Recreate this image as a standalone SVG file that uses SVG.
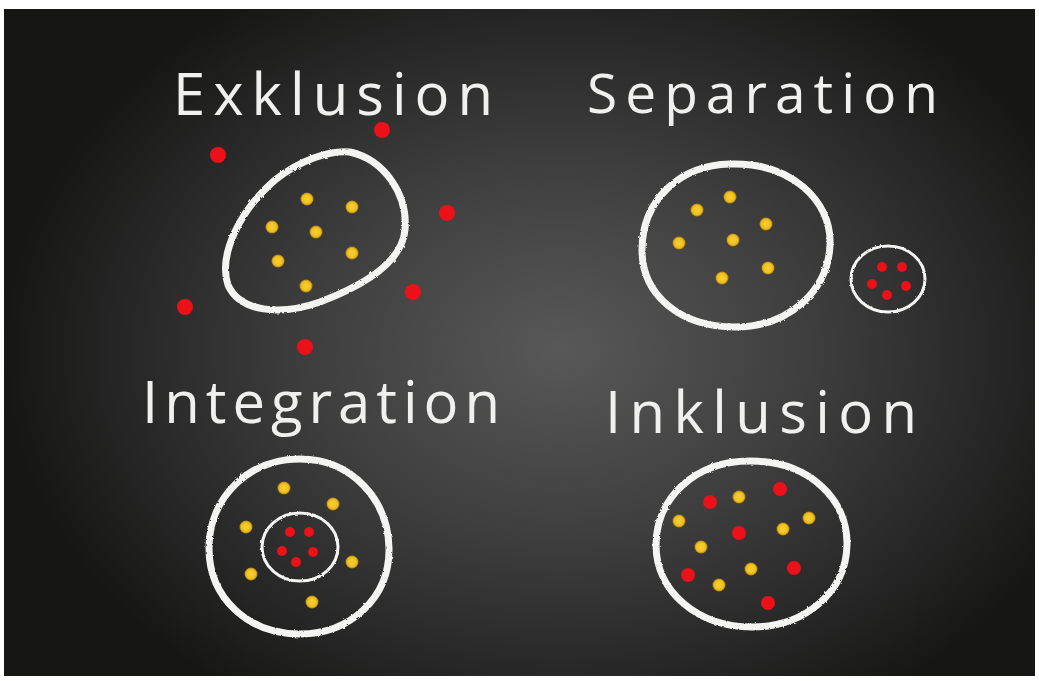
<svg xmlns="http://www.w3.org/2000/svg" width="1039" height="681" viewBox="0 0 1039 681">
<defs>
<radialGradient id="board" cx="560" cy="350" r="560" gradientUnits="userSpaceOnUse" gradientTransform="translate(560 350) scale(1 0.75) translate(-560 -350)">
<stop offset="0" stop-color="#585858"/>
<stop offset="0.45" stop-color="#3e3e3e"/>
<stop offset="0.8" stop-color="#252525"/>
<stop offset="1" stop-color="#161614"/>
</radialGradient>
<filter id="chalk" x="-10%" y="-10%" width="120%" height="120%">
<feTurbulence type="fractalNoise" baseFrequency="0.35" numOctaves="2" seed="3"/>
<feDisplacementMap in="SourceGraphic" scale="2.5"/>
</filter>
<radialGradient id="yel" cx="0.5" cy="0.5" r="0.5">
<stop offset="0" stop-color="#f5d230"/>
<stop offset="0.7" stop-color="#f0c020"/>
<stop offset="1" stop-color="#b08010"/>
</radialGradient>
</defs>
<style>
.ring{fill:none;stroke:#f4f4f2;stroke-width:7;stroke-linejoin:round}
.ring2{fill:none;stroke:#f4f4f2;stroke-width:3}
.red{fill:#ec1018}
.yel{fill:url(#yel)}
.lbl{font-family:"Open Sans","DejaVu Sans","Liberation Sans",sans-serif;fill:#f0f0ee;font-weight:400}
</style>
<rect width="1039" height="681" fill="#ffffff"/>
<rect x="4" y="9" width="1031" height="667" fill="url(#board)"/>

<g id="exklusion">
<text class="lbl" x="173" y="115" font-size="58" textLength="320" lengthAdjust="spacing">Exklusion</text>
<path class="ring" filter="url(#chalk)" d="M350,152 C385,160 408,195 405,230 C402,262 365,285 320,302 C280,316 240,312 228,285 C218,255 240,210 275,180 C300,160 330,150 350,152 Z"/>
<circle class="red" cx="218" cy="155" r="8"/>
<circle class="red" cx="382" cy="130" r="8"/>
<circle class="red" cx="447" cy="213" r="8"/>
<circle class="red" cx="185" cy="307" r="8"/>
<circle class="red" cx="413" cy="292" r="8"/>
<circle class="red" cx="305" cy="347" r="8"/>
<circle class="yel" cx="307" cy="199" r="6.5"/>
<circle class="yel" cx="352" cy="207" r="6.5"/>
<circle class="yel" cx="272" cy="227" r="6.5"/>
<circle class="yel" cx="316" cy="232" r="6.5"/>
<circle class="yel" cx="278" cy="261" r="6.5"/>
<circle class="yel" cx="352" cy="253" r="6.5"/>
<circle class="yel" cx="306" cy="286" r="6.5"/>
</g>

<g id="separation">
<text class="lbl" x="587" y="113" font-size="55" textLength="351" lengthAdjust="spacing">Separation</text>
<path class="ring" filter="url(#chalk)" d="M730,164 C790,162 832,200 830,245 C828,290 790,327 735,327 C680,327 642,295 642,250 C642,200 680,165 730,164 Z"/>
<circle class="yel" cx="730" cy="197" r="6.5"/>
<circle class="yel" cx="697" cy="210" r="6.5"/>
<circle class="yel" cx="766" cy="224" r="6.5"/>
<circle class="yel" cx="679" cy="243" r="6.5"/>
<circle class="yel" cx="733" cy="240" r="6.5"/>
<circle class="yel" cx="768" cy="268" r="6.5"/>
<circle class="yel" cx="722" cy="278" r="6.5"/>
<ellipse class="ring2" filter="url(#chalk)" cx="888" cy="279" rx="37" ry="33"/>
<circle class="red" cx="882" cy="267" r="5"/>
<circle class="red" cx="902" cy="267" r="5"/>
<circle class="red" cx="872" cy="284" r="5"/>
<circle class="red" cx="906" cy="286" r="5"/>
<circle class="red" cx="887" cy="295" r="5"/>
</g>

<g id="integration">
<text class="lbl" x="142" y="423" font-size="58" textLength="358" lengthAdjust="spacing">Integration</text>
<path class="ring" filter="url(#chalk)" d="M300,459 C352,459 388,500 389,548 C390,598 350,634 300,634 C248,634 209,598 209,548 C209,498 248,459 300,459 Z"/>
<circle class="yel" cx="284" cy="488" r="6.5"/>
<circle class="yel" cx="333" cy="504" r="6.5"/>
<circle class="yel" cx="246" cy="527" r="6.5"/>
<circle class="yel" cx="352" cy="562" r="6.5"/>
<circle class="yel" cx="251" cy="574" r="6.5"/>
<circle class="yel" cx="312" cy="602" r="6.5"/>
<ellipse class="ring2" filter="url(#chalk)" cx="300" cy="547" rx="38" ry="34"/>
<circle class="red" cx="290" cy="532" r="5"/>
<circle class="red" cx="309" cy="532" r="5"/>
<circle class="red" cx="282" cy="551" r="5"/>
<circle class="red" cx="313" cy="552" r="5"/>
<circle class="red" cx="296" cy="562" r="5"/>
</g>

<g id="inklusion">
<text class="lbl" x="605" y="433" font-size="58" textLength="312" lengthAdjust="spacing">Inklusion</text>
<path class="ring" filter="url(#chalk)" d="M750,461 C810,461 848,500 847,545 C846,592 805,627 752,627 C698,627 656,592 656,545 C656,498 695,461 750,461 Z"/>
<circle class="red" cx="710" cy="502" r="7"/>
<circle class="red" cx="780" cy="489" r="7"/>
<circle class="red" cx="739" cy="533" r="7"/>
<circle class="red" cx="794" cy="568" r="7"/>
<circle class="red" cx="688" cy="575" r="7"/>
<circle class="red" cx="768" cy="603" r="7"/>
<circle class="yel" cx="739" cy="497" r="6.5"/>
<circle class="yel" cx="679" cy="521" r="6.5"/>
<circle class="yel" cx="809" cy="518" r="6.5"/>
<circle class="yel" cx="783" cy="529" r="6.5"/>
<circle class="yel" cx="701" cy="547" r="6.5"/>
<circle class="yel" cx="751" cy="569" r="6.5"/>
<circle class="yel" cx="719" cy="585" r="6.5"/>
</g>
</svg>
